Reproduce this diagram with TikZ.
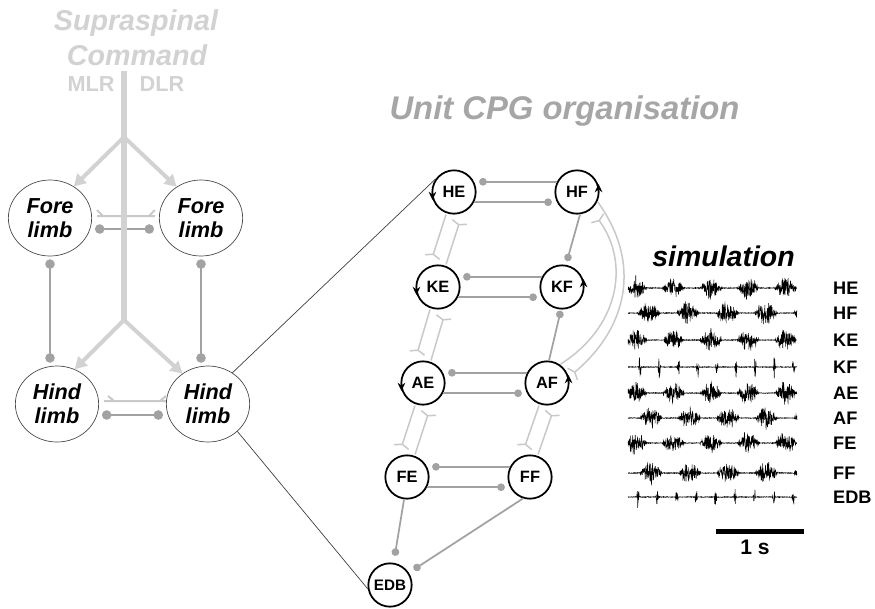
\documentclass[tikz,border=0pt]{standalone}
\usepackage{fontspec}
\setmainfont{Liberation Sans}
\usetikzlibrary{arrows.meta,shapes.geometric}

\definecolor{cmdgray}{HTML}{D2D2D2}
\definecolor{inhgray}{HTML}{A2A2A2}
\definecolor{excgray}{HTML}{C9C9C9}
\definecolor{titlegray}{HTML}{A6A6A6}

\tikzset{
  limb/.style={ellipse, draw=black!70, line width=0.6pt, fill=white, minimum width=2.5cm, minimum height=2.28cm,
    inner sep=0pt, align=center, font=\bfseries\itshape\fontsize{18.5}{20.5}\selectfont},
  cpg/.style={circle, draw, line width=1.5pt, fill=white, minimum size=1.3cm, inner sep=0pt,
    font=\bfseries\fontsize{14}{16}\selectfont},
  inh/.style={draw=inhgray, line width=1.5pt, -{Circle[length=6.5pt]}},
  inhlimb/.style={draw=inhgray, line width=2.4pt, {Circle[length=8pt]}-{Circle[length=8pt]}},
  fork/.style={draw=excgray, line width=1.7pt},
  exc/.style={draw=excgray, line width=1.3pt, -{Straight Barb[reversed, length=2.5pt, width=13pt]}, shorten >=6pt},
  cmd/.style={draw=cmdgray, line width=3.4pt, -{Triangle[length=10pt, width=11pt]}},
  trunk/.style={draw=cmdgray, line width=4.3pt},
  zoomline/.style={draw=black!75, line width=0.6pt},
  turn/.style={line width=1.3pt, -{Stealth[length=7pt, width=6.5pt]}},
  emg/.style={line width=0.45pt},
  lbl/.style={anchor=west, inner sep=0pt, font=\bfseries\fontsize{15.5}{18}\selectfont},
  bigtitle/.style={anchor=base, font=\bfseries\itshape\fontsize{24.5}{28}\selectfont},
}

\begin{document}
\begin{tikzpicture}[x=0.03cm, y=-0.03cm]
\useasboundingbox (0,0) rectangle (875,608);

\node[bigtitle, text=cmdgray] (supra) at (136,30) {Supraspinal};
\node[bigtitle, text=cmdgray] (command) at (137,65) {Command};
\node[anchor=base, text=cmdgray, font=\bfseries\fontsize{18.5}{20}\selectfont] (mlr) at (91,91) {MLR};
\node[anchor=base, text=cmdgray, font=\bfseries\fontsize{18.5}{20}\selectfont] (dlr) at (162,91) {DLR};

\node[limb] (forel) at (50,218) {Fore\\limb};
\node[limb] (forer) at (201,218) {Fore\\limb};
\node[limb] (hindl) at (57,404) {Hind\\limb};
\node[limb] (hindr) at (208,404) {Hind\\limb};

\draw[inhlimb] ([shift={(0,3)}]forel.south) -- ([shift={(0,-3)}]forel.south |- hindl.north);
\draw[inhlimb] ([shift={(0,3)}]forer.south) -- ([shift={(0,-3)}]forer.south |- hindr.north);
\draw[inhlimb] ([shift={(3,11)}]forel.east) -- ([shift={(-5,11)}]forer.west);
\draw[inhlimb] ([shift={(3,11)}]hindl.east) -- ([shift={(-3,11)}]hindr.west);

\draw[fork] ([shift={(5,-2)}]forel.east) -- ([shift={(-4,-2)}]forer.west)
  ([shift={(11,-2)}]forel.east) -- ++(-6,-6)
  ([shift={(-10,-2)}]forer.west) -- ++(6,-6);
\draw[fork] ([shift={(5,-3)}]hindl.east) -- ([shift={(0,-3)}]hindr.west)
  ([shift={(15,-3)}]hindl.east) -- ++(-6,-5)
  ([shift={(-6,-3)}]hindr.west) -- ++(6,-5);

\coordinate (top) at (124,71);
\coordinate (split1) at (124,137);
\coordinate (split2) at (124,320);
\draw[cmd] (split1) -- (forel.53);
\draw[cmd] (split1) -- (forer.128);
\draw[cmd] (split2) -- (hindl.63);
\draw[cmd] (split2) -- (hindr.130);
\draw[trunk] (top) -- (split2);

\node[anchor=base, text=titlegray, font=\bfseries\itshape\fontsize{28}{32}\selectfont] (unit) at (564.5,119) {Unit CPG organisation};

\node[cpg] (he) at (454,192) {HE};
\node[cpg] (hf) at (577,192) {HF};
\node[cpg] (ke) at (438,287) {KE};
\node[cpg] (kf) at (562,287) {KF};
\node[cpg] (ae) at (423,383) {AE};
\node[cpg] (af) at (547,383) {AF};
\node[cpg] (fe) at (407,477) {FE};
\node[cpg] (ff) at (530,477) {FF};
\node[cpg, font=\bfseries\fontsize{13}{15}\selectfont] (edb) at (390,585) {EDB};

\draw[zoomline] (hindr.52) -- (he.144);
\draw[zoomline] (hindr.-43) -- (edb.190);

\foreach \e/\f in {he/hf, ke/kf, ae/af, fe/ff} {
  \draw[inh, shorten >=4.3pt] (\f.153) -- (\e.27);
  \draw[inh, shorten >=4.3pt] (\e.-27) -- (\f.-153);
}
\draw[inh, shorten >=3pt] ([shift={(3,0)}]hf.south) -- ([shift={(4,0)}]kf.north);
\draw[inh, shorten >=1pt] ([shift={(2,0)}]af.north) -- ([shift={(-1,0)}]kf.south);
\draw[inh, shorten >=6pt] ([shift={(-3,0)}]fe.south) -- (edb);
\draw[inh, shorten >=5pt] (ff.-108) -- (edb);

\foreach \a/\b in {he/ke, ke/ae, ae/fe, af/ff} {
  \draw[exc] ([shift={(-8,0)}]\a.south) -- ([shift={(-8,0)}]\b.north);
  \draw[exc] ([shift={(8,0)}]\b.north) -- ([shift={(8,0)}]\a.south);
}
\draw[exc, shorten >=3.5pt] (hf.-25) to[out=-54, in=40, looseness=1.1] (af.15);
\draw[exc, shorten >=8.5pt] (af.55) to[out=32, in=-54, looseness=1.1] (hf.-51);

\foreach \n in {he,ke,ae}
  \draw[turn] ([shift={(1,-3)}]\n.west) -- ([shift={(1,8)}]\n.west);
\foreach \n in {hf,kf,af}
  \draw[turn] ([shift={(-1,3)}]\n.east) -- ([shift={(-1,-8)}]\n.east);

\node[anchor=base, font=\bfseries\itshape\fontsize{24.3}{28}\selectfont] (sim) at (723.5,266) {simulation};

\pgfmathsetseed{11}
\foreach \yy/\xo/\pp/\kk/\nm in {288/636/37.4/0/HE, 313/649/39/0/HF, 340/636/37.4/0/KE, 367/640/19.2/1/KF,
    393/636/37.4/0/AE, 418/651/38.5/0/AF, 443/636/37.4/0/FE, 473/651/38.5/0/FF, 497/638/19.4/1/EDB} {
  \draw[emg] plot[domain=628:797, samples=700, variable=\t]
    (\t, {\yy + 9*rand*(0.6+0.8*rnd)*(0.04 + (1-\kk)*max(0,cos((\t-\xo)*(360/\pp))+0.3)/1.3 + \kk*10*max(0,cos((\t-\xo)*(360/\pp))-0.9))});
  \node[lbl] (l\nm) at (833,\yy) {\nm};
}

\coordinate (bar1) at (716,531);
\coordinate (bar2) at (804,531);
\draw[line width=4.25pt] (bar1) -- (bar2);
\node[font=\bfseries\fontsize{18}{20}\selectfont] (sec) at (755,547) {1 s};

\end{tikzpicture}
\end{document}
